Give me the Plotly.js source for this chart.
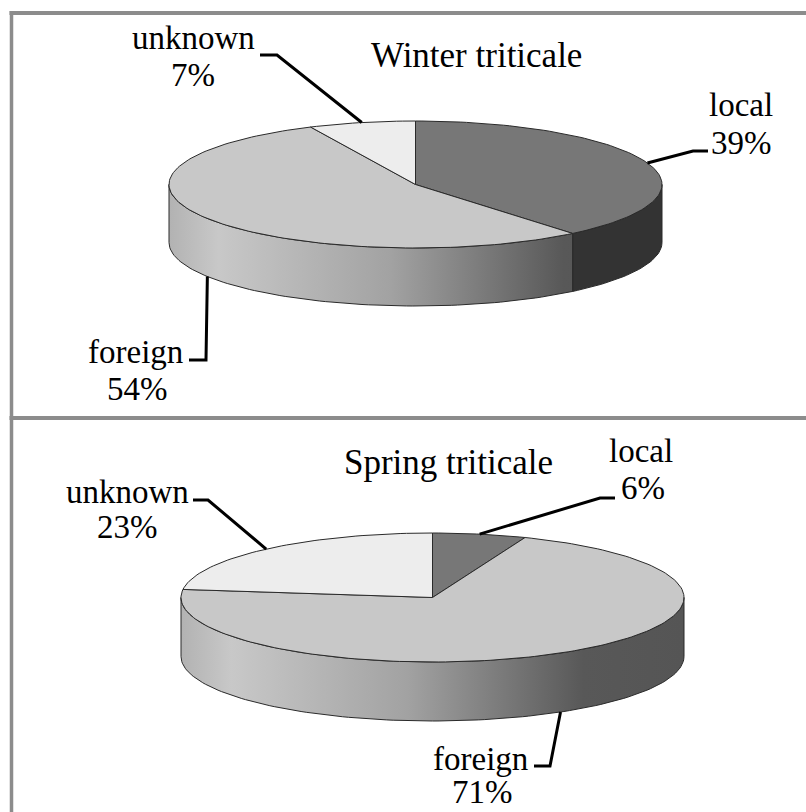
<!DOCTYPE html>
<html>
<head>
<meta charset="utf-8">
<script src="https://cdn.plot.ly/plotly-3.0.1.min.js"></script>
<style>html,body{margin:0;padding:0;background:#fff}#chart{width:806px;height:812px}</style>
</head>
<body>
<div id="chart"></div>
<script>
// Origin shares of triticale varieties, percent
const categories = ["local", "foreign", "unknown"];
const winterValues = [39, 54, 7];
const springValues = [6, 71, 23];
const winterTitle = "Winter triticale";
const springTitle = "Spring triticale";

// Slice styling, same order as categories
const topColors = ["#777777", "#c8c8c8", "#ededed"];
const wallFills = ["#333333", "gradient", "#d8d8d8"];
const wallScale = [[0, "#b2b2b2"], [0.1, "#c8c8c8"], [0.45, "#a2a2a2"], [0.8, "#585858"], [1, "#555555"]];
const edgeColor = "#2a2a2a";
const frameColor = "#8c8c8c";
const fontFamily = '"Liberation Serif", serif';

// Geometry of each drawn pie and where its text goes: name line and percent line per slice
const winterPie = {
  cx: 415.5, cy: 184.5, rx: 246.5, ry: 63.5, depth: 58, values: winterValues,
  title: winterTitle, titleAt: [476, 55],
  nameAt: [[741, 105], [135, 352], [193, 38]],
  shareAt: [[741, 143], [137, 389], [193, 75]],
  elbows: [[[693, 151], [708, 151]], [[206, 360], [189, 360]], [[277, 55], [260, 55]]]
};
const springPie = {
  cx: 432.5, cy: 597.5, rx: 251.5, ry: 64.5, depth: 59, values: springValues,
  title: springTitle, titleAt: [448, 462],
  nameAt: [[641, 451], [480, 759], [127, 492]],
  shareAt: [[643, 488], [482, 792], [127, 527]],
  elbows: [[[600, 498], [615, 498]], [[550, 766], [534, 766]], [[208, 500], [193, 500]]]
};

const DEG = Math.PI / 180;
// Angles run clockwise from twelve o'clock
const rim = (p, a, drop) => [p.cx + p.rx * Math.sin(a * DEG), p.cy - p.ry * Math.cos(a * DEG) + (drop || 0)];

function arc(p, from, to, drop) {
  const pts = [], n = Math.max(2, Math.ceil(Math.abs(to - from) / 1.5));
  for (let i = 0; i <= n; i++) pts.push(rim(p, from + (to - from) * i / n, drop));
  return pts;
}

function polygon(pts, extra) {
  return Object.assign({
    x: pts.map(q => q[0]), y: pts.map(q => q[1]),
    mode: "lines", fill: "toself", hoverinfo: "skip", showlegend: false,
    line: {color: edgeColor, width: 1}
  }, extra);
}

function textAt(at, text, size) {
  return {
    x: at[0], y: at[1], xref: "x", yref: "y", text,
    showarrow: false, xanchor: "center", yanchor: "middle",
    font: {family: fontFamily, size, color: "#000000"}
  };
}

function pieTraces(p) {
  const walls = [], tops = [], leaders = [], notes = [];
  const total = p.values.reduce((a, b) => a + b, 0);
  // Spans start so that the unknown slice ends at twelve o'clock
  let start = 0;
  const spans = p.values.map(v => {
    const s = {from: start, to: start + v / total * 360};
    start = s.to;
    return s;
  });

  spans.forEach((s, i) => {
    // Only the near half of the rim shows a wall
    const a = Math.max(s.from, 90), b = Math.min(s.to, 270);
    if (b > a) {
      const pts = arc(p, a, b, 0).concat(arc(p, b, a, p.depth));
      pts.push(pts[0]);
      const style = wallFills[i] === "gradient"
        ? {fillgradient: {type: "horizontal", colorscale: wallScale, start: p.cx - p.rx, stop: p.cx + p.rx}}
        : {fillcolor: wallFills[i]};
      walls.push(polygon(pts, style));
    }
    const slice = [[p.cx, p.cy]].concat(arc(p, s.from, s.to, 0));
    slice.push([p.cx, p.cy]);
    tops.push(polygon(slice, {fillcolor: topColors[i]}));

    // Leader runs from the middle of the slice's rim, bottom edge when it faces the viewer
    const mid = (s.from + s.to) / 2;
    const front = mid > 90 && mid < 270;
    const anchor = rim(p, mid, front ? p.depth : 0);
    const path = [anchor].concat(p.elbows[i]);
    leaders.push({
      x: path.map(q => q[0]), y: path.map(q => q[1]),
      mode: "lines", hoverinfo: "skip", showlegend: false,
      line: {color: "#000000", width: 3}
    });
    notes.push(textAt(p.nameAt[i], categories[i], 33));
    notes.push(textAt(p.shareAt[i], p.values[i] + "%", 33));
  });
  notes.push(textAt(p.titleAt, p.title, 35));
  return {traces: walls.concat(tops, leaders), notes};
}

const winter = pieTraces(winterPie);
const spring = pieTraces(springPie);

const frame = [[9.5, 13, 806, 13, 4], [11.5, 11, 11.5, 812, 3.5], [9.5, 418, 806, 418, 4]].map(l => ({
  type: "line", xref: "x", yref: "y", x0: l[0], y0: l[1], x1: l[2], y1: l[3],
  line: {color: frameColor, width: l[4]}
}));

Plotly.newPlot("chart", winter.traces.concat(spring.traces), {
  width: 806, height: 812,
  margin: {l: 0, r: 0, t: 0, b: 0},
  paper_bgcolor: "#ffffff", plot_bgcolor: "#ffffff",
  xaxis: {range: [0, 806], visible: false, fixedrange: true},
  yaxis: {range: [812, 0], visible: false, fixedrange: true},
  shapes: frame,
  annotations: winter.notes.concat(spring.notes),
  showlegend: false
}, {displayModeBar: false, staticPlot: true});
</script>
</body>
</html>
